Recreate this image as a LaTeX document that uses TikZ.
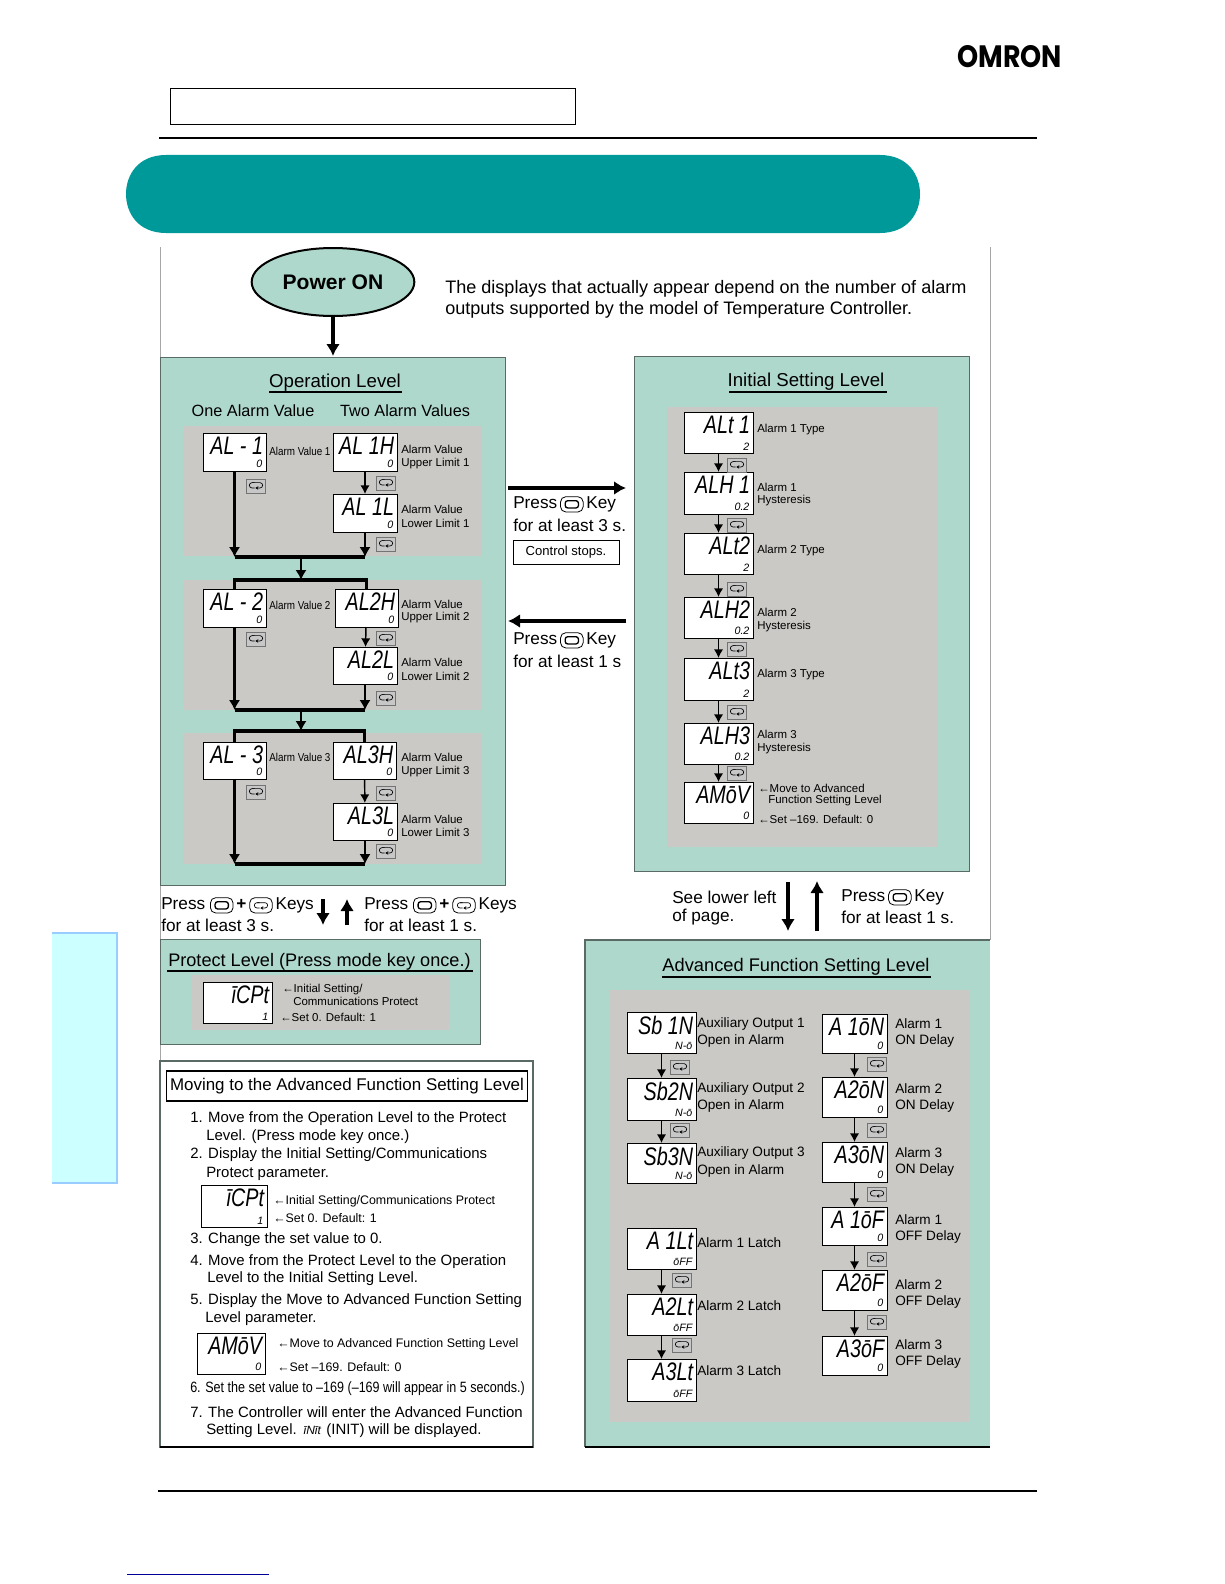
\documentclass[tikz,border=0pt]{standalone}
\usepackage{fontspec}
\setmainfont{Liberation Sans}
\newfontfamily\logofont{Poppins}
\usetikzlibrary{arrows.meta,shapes.geometric}

\definecolor{bannerteal}{HTML}{009999}
\definecolor{panelmint}{HTML}{AFD8CC}
\definecolor{panelgrey}{HTML}{CBC9C5}
\definecolor{panelline}{HTML}{5A6A65}
\definecolor{tabfill}{HTML}{CCFFFF}
\definecolor{tabline}{HTML}{99CCFF}

\tikzset{
  levelpanel/.style={draw=panelline, fill=panelmint, line width=0.7pt},
  greyarea/.style={fill=panelgrey},
  lcdbox/.style={draw=black, fill=white, line width=0.7pt, inner sep=0pt, outer sep=0pt, anchor=north west},
  lcdmain/.style={font=\fontsize{19}{19}\selectfont\itshape, inner sep=0pt, anchor=north east},
  lcdsub/.style={font=\fontsize{8}{8}\selectfont\itshape, inner sep=0pt, anchor=south east},
  keybox/.style={draw=black!55, fill=black!22, line width=0.6pt, inner sep=0pt, minimum width=14.5pt, minimum height=10.5pt},
  titletext/.style={font=\fontsize{14}{16}\selectfont, inner sep=0pt, yshift=-1.4pt},
  bodytext/.style={font=\fontsize{12.2}{14}\selectfont, inner sep=0pt, anchor=west, yshift=-1pt},
  presstext/.style={font=\fontsize{12.9}{14}\selectfont, inner sep=0pt, anchor=west, yshift=-1pt},
  notetext/.style={font=\fontsize{13.55}{16}\selectfont, inner sep=0pt, anchor=west, yshift=-1pt},
  listtext/.style={font=\fontsize{11.2}{14}\selectfont, inner sep=0pt, anchor=west, yshift=-0.7pt},
  smalltext/.style={font=\fontsize{8.6}{10}\selectfont, inner sep=0pt, anchor=west, yshift=-0.5pt},
  midtext/.style={font=\fontsize{10.2}{12}\selectfont, inner sep=0pt, anchor=west, yshift=-0.6pt},
  pointertext/.style={font=\fontsize{9.3}{12}\selectfont, inner sep=0pt, anchor=west, yshift=-0.6pt},
  bigarrow/.style={line width=3pt, -{Latex[length=9pt,width=10.5pt]}},
  flowarrow/.style={line width=1.1pt, -{Latex[length=6.5pt,width=7pt]}},
  mainflow/.style={line width=2.2pt, -{Latex[length=7.5pt,width=8.5pt]}},
  flowbar/.style={line width=2.4pt},
}

% one display: name, left, top, width, height, main text, small text
\newcommand{\lcd}[7]{%
  \node[lcdbox, minimum width=#4*0.75pt, minimum height=#5*0.75pt] (#1) at (#2,#3) {};
  \node[lcdmain] (#1main) at ([xshift=-2pt,yshift=-3pt]#1.north east) {\scalebox{.78}[1]{#6}};
  \node[lcdsub] (#1sub) at ([xshift=-2.5pt,yshift=2pt]#1.south east) {#7};
}
\newcommand{\looppath}{%
  \draw[line width=0.5pt] (4,4) -- (2,4) arc[start angle=90,end angle=270,radius=2] -- (4,0);
  \draw[line width=0.5pt,-{Stealth[length=2.2pt,width=2.6pt]}] (2,4) -- (8,4) arc[start angle=90,end angle=-90,radius=2] -- (4.5,0);}
\newcommand{\loopglyph}{\tikz[x=1pt,y=1pt]{\looppath}}
\newcommand{\modekey}{\tikz[x=1pt,y=1pt,baseline=2.5pt]{%
  \draw[line width=0.6pt, rounded corners=4pt] (0,0) rectangle (17,11.5);
  \draw[line width=1pt, rounded corners=2pt] (3.5,3) rectangle (13.5,8.5);}}
\newcommand{\levelkey}{\tikz[x=1pt,y=1pt,baseline=2.5pt]{%
  \draw[line width=0.6pt, rounded corners=4pt] (0,0) rectangle (17,11.5);
  \begin{scope}[shift={(3.5,3.75)}]\looppath\end{scope}}}

\begin{document}
\begin{tikzpicture}[x=0.75pt,y=-0.75pt]
\useasboundingbox (0,0) rectangle (1224,1584);

% Page head
\node[inner sep=0pt, anchor=north west] (logo) at (957,45) {\resizebox{78.5pt}{16.5pt}{\logofont\bfseries OMRON}};
\draw[line width=0.6pt] (170,88) rectangle (575,124);
\draw[line width=1.3pt] (159,138) -- (1037,138);
\fill[bannerteal] (166,155) .. controls (138,155) and (126,175) .. (126,194)
  .. controls (126,213) and (138,233) .. (166,233) -- (880,233)
  .. controls (908,233) and (920,213) .. (920,194)
  .. controls (920,175) and (908,155) .. (880,155) -- cycle;

% Side tab
\fill[tabfill] (52,932) rectangle (117,1184);
\draw[tabline, line width=1.5pt] (52,933) -- (117,933) -- (117,1183) -- (52,1183);

% Outer thin frame
\draw[black!35, line width=0.6pt] (160,247) -- (160,1447);
\draw[black!35, line width=0.6pt] (990,247) -- (990,940);

% Foot lines
\draw[line width=0.8pt] (158,1491) -- (1037,1491);
\draw[blue!60!black, line width=0.6pt] (127,1574) -- (269,1574);

% Power on
\node[ellipse, draw=black, fill=panelmint, line width=1.5pt, minimum width=122pt, minimum height=51pt, inner sep=0pt,
  font=\fontsize{15.8}{16}\selectfont\bfseries] (power) at (333,282) {\raisebox{-2.5pt}{Power ON}};
\coordinate (opentry) at (333,356);
\draw[bigarrow] (power) -- (opentry);
\node[notetext] (note1) at (445,287) {The displays that actually appear depend on the number of alarm};
\node[notetext] (note2) at (445,308) {outputs supported by the model of Temperature Controller.};

% Operation level
\draw[levelpanel] (160,357) rectangle (505,885);
\node[titletext] (optitle) at (335,381) {Operation Level};
\draw[line width=0.8pt] (269,392) -- (402,392);
\node[bodytext, anchor=center] (onealarm) at (253,409) {One Alarm Value};
\node[bodytext, anchor=center] (twoalarm) at (405,409) {Two Alarm Values};
\fill[greyarea] (183,426) rectangle (482,556);
\fill[greyarea] (183,580) rectangle (482,710);
\fill[greyarea] (183,733) rectangle (482,864);

\lcd{alone}{203}{433}{63}{38}{AL - 1}{0}
\lcd{aloneh}{333}{433}{64}{38}{AL 1H}{0}
\lcd{alonel}{333}{494}{64}{38}{AL 1L}{0}
\lcd{altwo}{203}{589}{63}{38}{AL - 2}{0}
\lcd{altwoh}{335}{589}{63}{38}{AL2H}{0}
\lcd{altwol}{333}{647}{64}{37}{AL2L}{0}
\lcd{althree}{203}{742}{63}{37}{AL - 3}{0}
\lcd{althreeh}{333}{742}{63}{37}{AL3H}{0}
\lcd{althreel}{333}{803}{64}{37}{AL3L}{0}

% Joins under each group
\coordinate (joinone) at (301,557);
\coordinate (topbarone) at (301,580);
\coordinate (jointwo) at (301,710);
\coordinate (topbartwo) at (301,731);
\coordinate (jointhree) at (301,864);
\draw[mainflow] (alone.south) -- (alone.south |- joinone);
\draw[flowarrow] (aloneh) -- (alonel);
\draw[mainflow] (alonel.south) -- (alonel.south |- joinone);
\draw[flowbar] (alone.south |- joinone) -- (alonel.south |- joinone);
\draw[mainflow] (joinone) -- (topbarone);
\draw[flowbar] (altwo.north) |- (topbarone) -| (altwoh.north);
\draw[mainflow] (altwo.south) -- (altwo.south |- jointwo);
\draw[flowarrow] (altwoh) -- (altwol);
\draw[mainflow] (altwol.south) -- (altwol.south |- jointwo);
\draw[flowbar] (altwo.south |- jointwo) -- (altwol.south |- jointwo);
\draw[mainflow] (jointwo) -- (topbartwo);
\draw[flowbar] (althree.north) |- (topbartwo) -| (althreeh.north);
\draw[mainflow] (althree.south) -- (althree.south |- jointhree);
\draw[flowarrow] (althreeh) -- (althreel);
\draw[mainflow] (althreel.south) -- (althreel.south |- jointhree);
\draw[flowbar] (althree.south |- jointhree) -- (althreel.south |- jointhree);

% Initial setting level
\draw[levelpanel] (634,356) rectangle (969,871);
\node[titletext] (intitle) at (806,380) {Initial Setting Level};
\draw[line width=0.8pt] (729,392) -- (887,392);
\fill[greyarea] (667,407) rectangle (938,847);
\lcd{altone}{684}{412}{69}{41}{ALt 1}{2}
\lcd{alhone}{684}{472}{69}{42}{ALH 1}{0.2}
\lcd{alttwo}{684}{533}{69}{41}{ALt2}{2}
\lcd{alhtwo}{684}{597}{69}{41}{ALH2}{0.2}
\lcd{altthree}{684}{658}{69}{42}{ALt3}{2}
\lcd{alhthree}{684}{723}{69}{41}{ALH3}{0.2}
\lcd{amov}{684}{782}{69}{41}{AMōV}{0}
\draw[flowarrow] (altone) -- (alhone);
\draw[flowarrow] (alhone) -- (alttwo);
\draw[flowarrow] (alttwo) -- (alhtwo);
\draw[flowarrow] (alhtwo) -- (altthree);
\draw[flowarrow] (altthree) -- (alhthree);
\draw[flowarrow] (alhthree) -- (amov);

% Between operation and initial setting
\coordinate (thrustleft) at (508,488);
\coordinate (thrustright) at (626,488);
\coordinate (backright) at (626,621);
\coordinate (backleft) at (508,621);
\draw[bigarrow] (thrustleft) -- (thrustright);
\draw[bigarrow] (backright) -- (backleft);
\node[presstext] (pressa) at (513,503) {Press\,\modekey\,Key};
\node[presstext] (pressb) at (513,524) {for at least 3 s.};
\node[draw=black, line width=0.7pt, font=\fontsize{9.8}{12}\selectfont, minimum width=79.5pt, minimum height=18pt, inner sep=0pt] (stops) at (566,552) {Control stops.};
\node[presstext] (pressc) at (513,639) {Press\,\modekey\,Key};
\begin{scope}
  \clip (508,650) rectangle (630,666);
  \node[presstext] (pressd) at (513,660) {for at least 1 s};
\end{scope}

% Between operation and protect
\node[presstext] (opdowna) at (161,904) {Press \modekey\,\textbf{+}\,\levelkey\,Keys};
\node[presstext] (opdownb) at (161,924) {for at least 3 s.};
\node[presstext] (opupa) at (364,904) {Press \modekey\,\textbf{+}\,\levelkey\,Keys};
\node[presstext] (opupb) at (364,924) {for at least 1 s.};
\coordinate (opdowntop) at (323,899);
\coordinate (opdownend) at (323,925);
\coordinate (opuptop) at (347,899);
\coordinate (opupend) at (347,925);
\draw[bigarrow] (opdowntop) -- (opdownend);
\draw[bigarrow] (opupend) -- (opuptop);

% Protect level
\draw[levelpanel] (160,939) rectangle (480,1044);
\node[titletext, anchor=west, font=\fontsize{13.6}{16}\selectfont] (prottitle) at (168,960) {Protect Level (Press mode key once.)};
\draw[line width=0.8pt] (167,971) -- (473,971);
\fill[greyarea] (191,975) rectangle (449,1030);
\lcd{protect}{203}{982}{69}{41}{īCPt}{1}

% Moving to advanced
\draw[panelline, line width=1.1pt] (160,1061) rectangle (533,1447);
\draw[line width=1.6pt] (160,1447) -- (533,1447);
\node[draw=black, line width=0.8pt, font=\fontsize{12.7}{15}\selectfont, minimum width=271pt, minimum height=22.5pt, inner sep=0pt] (movetitle) at (347,1086) {Moving to the Advanced Function Setting Level};
\foreach \ll/\lx/\ly/\lt in {linea/190/1118/{1. Move from the Operation Level to the Protect}, lineb/206/1136/{Level. (Press mode key once.)},
    linec/190/1154/{2. Display the Initial Setting/Communications}, lined/206/1173/{Protect parameter.},
    linee/190/1239/{3. Change the set value to 0.}, linef/190/1261/{4. Move from the Protect Level to the Operation},
    lineg/207/1278/{Level to the Initial Setting Level.}, lineh/190/1300/{5. Display the Move to Advanced Function Setting},
    linei/205/1318/{Level parameter.}, linej/190/1388/{\scalebox{.84}[1]{6. Set the set value to –169 (–169 will appear in 5 seconds.)}},
    linek/190/1411/{7. The Controller will enter the Advanced Function},
    linem/206/1430/{Setting Level. \hspace{1pt}{\itshape\fontsize{9}{9}\selectfont īNīt}\hspace{1pt} (INIT) will be displayed.}}
  \node[listtext] (\ll) at (\lx,\ly) {\lt};
\lcd{icpt}{201}{1185}{66}{42}{īCPt}{1}
\lcd{movelcd}{197}{1333}{68}{41}{AMōV}{0}
\node[pointertext] (icpta) at (273,1200) {←Initial Setting/Communications Protect};
\node[pointertext] (icptb) at (273,1217) {←Set 0. Default: 1};
\node[pointertext] (movelcda) at (277,1343) {←Move to Advanced Function Setting Level};
\node[pointertext] (movelcdb) at (277,1366) {←Set –169. Default: 0};

% Between initial and advanced
\node[presstext] (seea) at (672,896) {See lower left};
\node[presstext] (seeb) at (672,916) {of page.};
\node[presstext] (inpressa) at (841,896) {Press\,\modekey\,Key};
\node[presstext] (inpressb) at (841,916) {for at least 1 s.};
\coordinate (seedowntop) at (788,882);
\coordinate (seedownend) at (788,931);
\coordinate (seeuptop) at (817,881);
\coordinate (seeupend) at (817,931);
\draw[bigarrow] (seedowntop) -- (seedownend);
\draw[bigarrow, line width=3.5pt] (seeupend) -- (seeuptop);

% Advanced function setting level
\fill[panelmint] (585,940) rectangle (990,1447);
\draw[panelline, line width=1pt] (990,940) -- (585,940) -- (585,1447);
\draw[line width=1.6pt] (585,1447) -- (990,1447);
\node[titletext, font=\fontsize{13.7}{16}\selectfont] (advtitle) at (796,965) {Advanced Function Setting Level};
\draw[line width=0.8pt] (662,977) -- (931,977);
\fill[greyarea] (609,990) rectangle (969,1422);

\lcd{sbone}{627}{1012}{69}{41}{Sb 1N}{N-ō}
\lcd{sbtwo}{627}{1078}{69}{42}{Sb2N}{N-ō}
\lcd{sbthree}{627}{1143}{69}{40}{Sb3N}{N-ō}
\lcd{aoneon}{822}{1014}{65}{39}{A 1ōN}{0}
\lcd{atwoon}{822}{1077}{65}{40}{A2ōN}{0}
\lcd{athreeon}{822}{1142}{65}{40}{A3ōN}{0}
\lcd{aoneof}{822}{1207}{65}{38}{A 1ōF}{0}
\lcd{atwoof}{822}{1270}{65}{40}{A2ōF}{0}
\lcd{athreeof}{822}{1336}{65}{39}{A3ōF}{0}
\lcd{aonelt}{627}{1228}{69}{41}{A 1Lt}{ōFF}
\lcd{atwolt}{627}{1294}{69}{41}{A2Lt}{ōFF}
\lcd{athreelt}{627}{1359}{69}{42}{A3Lt}{ōFF}

\draw[flowarrow] (sbone) -- (sbtwo);
\draw[flowarrow] (sbtwo) -- (sbthree);
\draw[flowarrow] (aonelt) -- (atwolt);
\draw[flowarrow] (atwolt) -- (athreelt);
\draw[flowarrow] (aoneon) -- (atwoon);
\draw[flowarrow] (atwoon) -- (athreeon);
\draw[flowarrow] (athreeon) -- (aoneof);
\draw[flowarrow] (aoneof) -- (atwoof);
\draw[flowarrow] (atwoof) -- (athreeof);

% Labels beside the displays
\foreach \lblname/\lx/\ly/\lbl in {valone/269/451/{\scalebox{.86}[1]{Alarm Value 1}}, valtwo/269/605/{\scalebox{.86}[1]{Alarm Value 2}},
    valthree/269/757/{\scalebox{.86}[1]{Alarm Value 3}},
    upone/401/449/{Alarm Value}, uponeb/401/463/{Upper Limit 1}, lowone/401/509/{Alarm Value}, lowoneb/401/523/{Lower Limit 1},
    uptwo/401/604/{Alarm Value}, uptwob/401/617/{Upper Limit 2}, lowtwo/401/662/{Alarm Value}, lowtwob/401/676/{Lower Limit 2},
    upthree/401/757/{Alarm Value}, upthreeb/401/771/{Upper Limit 3}, lowthree/401/819/{Alarm Value}, lowthreeb/401/832/{Lower Limit 3},
    typeone/757/429/{Alarm 1 Type}, hysone/757/487/{Alarm 1}, hysoneb/757/500/{Hysteresis},
    typetwo/757/550/{Alarm 2 Type}, hystwo/757/612/{Alarm 2}, hystwob/757/626/{Hysteresis},
    typethree/757/674/{Alarm 3 Type}, hysthree/757/734/{Alarm 3}, hysthreeb/757/748/{Hysteresis},
    movea/758/788/{←Move to Advanced}, moveb/768/800/{Function Setting Level}, movec/758/819/{←Set –169. Default: 0},
    protecta/282/989/{←Initial Setting/}, protectb/293/1001/{Communications Protect}, protectc/280/1017/{←Set 0. Default: 1}}
  \node[smalltext] (\lblname) at (\lx,\ly) {\lbl};

\foreach \lblname/\lx/\ly/\lbl in {auxa/697/1023/{Auxiliary Output 1}, auxab/697/1040/{Open in Alarm},
    auxb/697/1088/{Auxiliary Output 2}, auxbb/697/1105/{Open in Alarm},
    auxc/697/1152/{Auxiliary Output 3}, auxcb/697/1170/{Open in Alarm},
    lta/697/1242/{Alarm 1 Latch}, ltb/697/1305/{Alarm 2 Latch}, ltc/697/1370/{Alarm 3 Latch},
    ona/895/1023/{Alarm 1}, onab/895/1040/{ON Delay}, onb/895/1088/{Alarm 2}, onbb/895/1105/{ON Delay},
    onc/895/1152/{Alarm 3}, oncb/895/1169/{ON Delay},
    ofa/895/1219/{Alarm 1}, ofab/895/1236/{OFF Delay}, ofb/895/1284/{Alarm 2}, ofbb/895/1301/{OFF Delay},
    ofc/895/1344/{Alarm 3}, ofcb/895/1361/{OFF Delay}}
  \node[midtext] (\lblname) at (\lx,\ly) {\lbl};

% Level keys
\foreach \keyname/\kx/\ky in {kone/256/486, kaa/386/483, kab/386/544, ktwo/256/639, kba/386/638, kbb/386/698,
    kthree/256/792, kca/386/793, kcb/386/851,
    ka/737/465, kb/737/525, kc/737/589, kd/737/649, ke/737/712, kf/737/773,
    ksa/680/1067, ksb/680/1130, kla/682/1280, klb/682/1345,
    kna/877/1064, knb/877/1130, knc/877/1194, kfa/877/1259, kfb/877/1322}
  \node[keybox] (\keyname) at (\kx,\ky) {\loopglyph};
\end{tikzpicture}
\end{document}
